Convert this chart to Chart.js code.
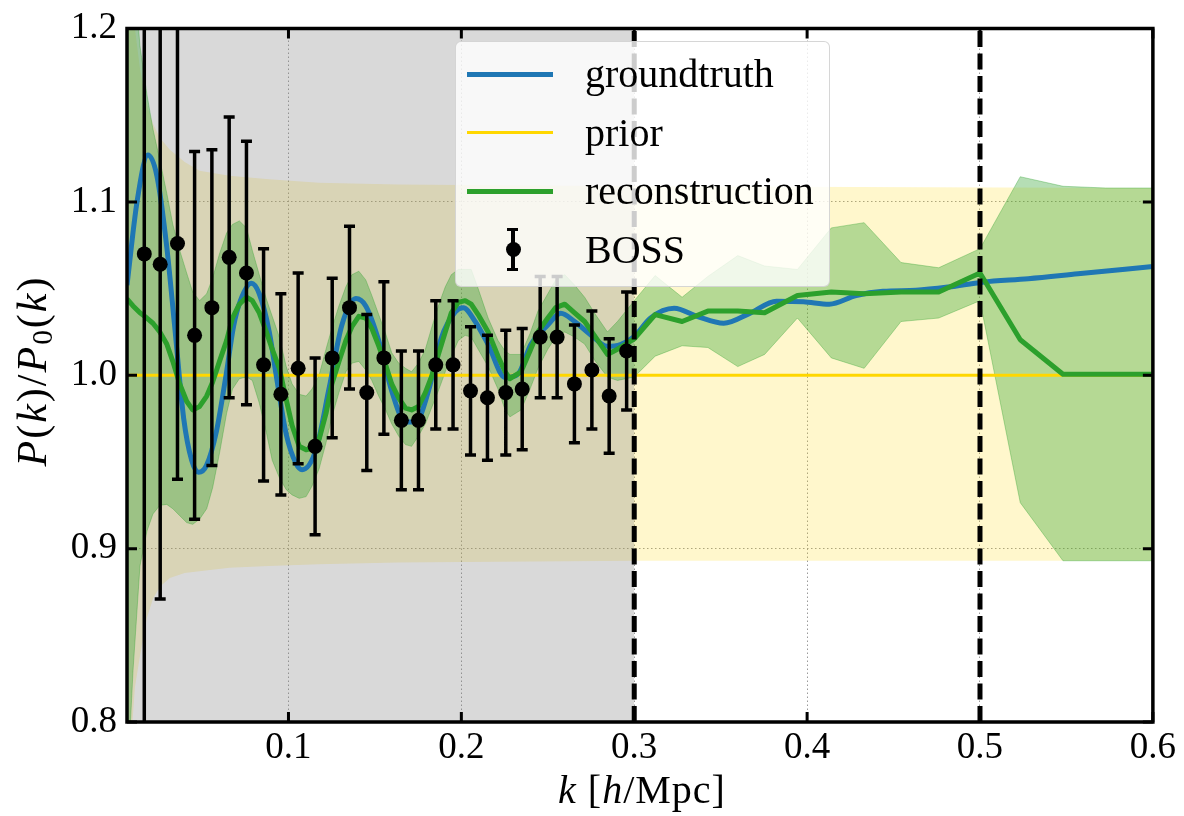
<!DOCTYPE html>
<html>
<head>
<meta charset="utf-8">
<script src="https://cdn.jsdelivr.net/npm/chart.js@4/dist/chart.umd.min.js"></script>
<style>
  html, body { margin: 0; padding: 0; background: #fff; }
  #wrap { position: relative; width: 1184px; height: 816px;
          font-family: "Liberation Serif", "Times New Roman", Times, "DejaVu Serif", serif; color: #000; }
  #chart { position: absolute; left: 0; top: 0; }
  sub { font-size: 0.7em; vertical-align: -0.22em; line-height: 0; }
  .xtitle { position: absolute; left: 442px; top: 770px; width: 400px; text-align: center;
            font-size: 40px; line-height: 40px; letter-spacing: 1px; }
  .ytitle { position: absolute; left: -118px; top: 350px; width: 300px; height: 42px; text-align: center;
            font-size: 42px; line-height: 42px; letter-spacing: 2px; transform: rotate(-90deg); }
  .legend { position: absolute; left: 455px; top: 41px; width: 375px; height: 246px; box-sizing: border-box;
            border: 1.5px solid rgba(204,204,204,0.8); border-radius: 6px; background: rgba(255,255,255,0.8); }
  .legend .row { position: absolute; left: 0; width: 100%; height: 40px; }
  .legend .txt { position: absolute; left: 129px; top: 0; font-size: 40px; line-height: 40px; white-space: nowrap; }
  .legend .line { position: absolute; left: 11px; width: 86px; }
  .legend .bar { position: absolute; background: #000; }
  .legend .dot { position: absolute; width: 15px; height: 15px; border-radius: 50%; background: #000; }
</style>
</head>
<body>
<div id="wrap">
  <canvas id="chart" width="1184" height="816"></canvas>
  <div class="ytitle"><i>P</i>(<i>k</i>)/<i>P</i><sub>0</sub>(<i>k</i>)</div>
  <div class="xtitle"><i>k</i> [<i>h</i>/Mpc]</div>
  <div class="legend" id="legend"></div>
</div>
<script>
// ── Data ──────────────────────────────────────────────────────────────────────

const xTicks     = [0.1, 0.2, 0.3, 0.4, 0.5, 0.6];
const yTicks     = [0.8, 0.9, 1.0, 1.1, 1.2];
const kRange     = [0.0066, 0.6];
const ratioRange = [0.8, 1.2];
const maskedK    = [0.0066, 0.3];   // grey span
const cutK       = [0.3, 0.5];      // dashed verticals
const priorMean  = 1.0;

const priorK  = [0.0066, 0.0083, 0.0112, 0.0141, 0.0181, 0.0216, 0.0256, 0.0314, 0.040, 0.0486,
                 0.0659, 0.0889, 0.1177, 0.1637, 0.3018, 0.6];
const priorLo = [0.60, 0.78, 0.82, 0.838, 0.860, 0.871, 0.878, 0.883, 0.886, 0.887,
                 0.889, 0.890, 0.891, 0.892, 0.893, 0.893];
const priorHi = [1.45, 1.28, 1.20, 1.177, 1.156, 1.145, 1.137, 1.130, 1.123, 1.118,
                 1.115, 1.113, 1.111, 1.110, 1.109, 1.108];

const truthK = [0.0066, 0.0124, 0.0187, 0.0239, 0.0296, 0.0342, 0.0394, 0.0440, 0.0480, 0.0526,
                0.0584, 0.0642, 0.0682, 0.0722, 0.0785, 0.0831, 0.0889, 0.0929, 0.0987, 0.1044,
                0.1079, 0.1159, 0.1234, 0.1309, 0.1390, 0.1447, 0.1522, 0.1597, 0.1677, 0.1735,
                0.1810, 0.1884, 0.1965, 0.2011, 0.2080, 0.2155, 0.2253, 0.2327, 0.2402, 0.2500,
                0.2575, 0.2655, 0.2747, 0.2845, 0.2920, 0.3001, 0.3093, 0.3231, 0.3363, 0.3518,
                0.3668, 0.3823, 0.3979, 0.4128, 0.4284, 0.4439, 0.4629, 0.4819, 0.5014, 0.5279,
                0.5567, 0.6];
const truthY = [1.052, 1.100, 1.127, 1.115, 1.074, 1.028, 0.975, 0.951, 0.944, 0.948,
                0.968, 1.002, 1.028, 1.043, 1.053, 1.047, 1.025, 1.000, 0.966, 0.949,
                0.9455, 0.957, 0.992, 1.029, 1.0443, 1.040, 1.020, 0.991, 0.973, 0.973,
                0.991, 1.0215, 1.0366, 1.039, 1.031, 1.0177, 0.9987, 1.0006, 1.0177, 1.029,
                1.0357, 1.031, 1.0234, 1.0167, 1.0177, 1.0224, 1.0329, 1.0386, 1.034, 1.030,
                1.0357, 1.0427, 1.0424, 1.041, 1.046, 1.0484, 1.049, 1.0509, 1.0537, 1.0557,
                1.0585, 1.0627];

const reconK  = [0.0066, 0.0101, 0.0141, 0.0181, 0.0216, 0.0256, 0.0296, 0.0331, 0.0371, 0.0411,
                 0.0446, 0.0486, 0.0527, 0.0561, 0.0601, 0.0642, 0.0676, 0.0716, 0.0757, 0.0791,
                 0.0831, 0.0872, 0.0906, 0.0947, 0.0987, 0.1021, 0.1062, 0.1102, 0.1136, 0.1177,
                 0.1217, 0.1251, 0.1292, 0.1332, 0.1367, 0.1407, 0.1447, 0.1482, 0.1522, 0.1562,
                 0.1597, 0.1637, 0.1677, 0.1712, 0.1752, 0.1792, 0.1827, 0.1867, 0.1907, 0.1942,
                 0.1982, 0.2022, 0.2057, 0.2097, 0.2155, 0.2212, 0.2253, 0.2281, 0.2345, 0.2397,
                 0.2443, 0.2500, 0.2546, 0.2598, 0.2655, 0.2713, 0.2776, 0.2845, 0.2903, 0.3000,
                 0.3121, 0.3277, 0.3426, 0.3599, 0.3754, 0.3944, 0.4140, 0.4330, 0.4543, 0.4761,
                 0.5000, 0.5233, 0.5480, 0.5728, 0.6];
const reconY  = [1.044, 1.040, 1.036, 1.033, 1.030, 1.025, 1.018, 1.008, 0.995, 0.985,
                 0.980, 0.982, 0.988, 0.996, 1.008, 1.020, 1.033, 1.041, 1.045, 1.043,
                 1.036, 1.025, 1.015, 1.004, 0.986, 0.971, 0.959, 0.957, 0.958, 0.963,
                 0.978, 0.995, 1.008, 1.020, 1.028, 1.034, 1.033, 1.027, 1.017, 1.006,
                 0.995, 0.987, 0.981, 0.980, 0.982, 0.990, 0.999, 1.012, 1.025, 1.036,
                 1.042, 1.043, 1.041, 1.035, 1.025, 1.011, 1.002, 0.998, 1.002, 1.014,
                 1.025, 1.033, 1.039, 1.041, 1.036, 1.031, 1.022, 1.012, 1.015, 1.021,
                 1.035, 1.031, 1.037, 1.037, 1.036, 1.046, 1.048, 1.047, 1.048, 1.048,
                 1.059, 1.0205, 1.0006, 1.0006, 1.0006];
const reconLo = [0.760, 0.830, 0.890, 0.910, 0.920, 0.925, 0.9255, 0.923, 0.919, 0.915,
                 0.914, 0.917, 0.923, 0.935, 0.955, 0.978, 0.992, 0.998, 0.999, 0.997,
                 0.984, 0.967, 0.951, 0.941, 0.934, 0.931, 0.929, 0.930, 0.936, 0.946,
                 0.961, 0.976, 0.990, 1.002, 1.007, 1.008, 1.003, 0.997, 0.988, 0.980,
                 0.972, 0.965, 0.960, 0.959, 0.965, 0.972, 0.981, 0.991, 1.002, 1.011,
                 1.020, 1.023, 1.022, 1.015, 1.005, 0.992, 0.980, 0.976, 0.980, 0.992,
                 1.004, 1.015, 1.022, 1.025, 1.022, 1.018, 1.008, 0.999, 0.997, 0.999,
                 1.011, 1.017, 1.016, 1.005, 1.012, 1.033, 1.010, 1.004, 1.031, 1.033,
                 1.043, 0.9265, 0.893, 0.893, 0.893];
const reconHi = [1.300, 1.240, 1.190, 1.162, 1.142, 1.124, 1.105, 1.087, 1.072, 1.059,
                 1.048, 1.043, 1.047, 1.056, 1.070, 1.082, 1.087, 1.089, 1.085, 1.072,
                 1.058, 1.044, 1.034, 1.022, 1.005, 0.995, 0.989, 0.988, 0.992, 1.000,
                 1.015, 1.027, 1.040, 1.051, 1.058, 1.060, 1.055, 1.046, 1.035, 1.024,
                 1.013, 1.007, 1.004, 1.002, 1.007, 1.015, 1.027, 1.040, 1.051, 1.058,
                 1.061, 1.061, 1.061, 1.050, 1.033, 1.020, 1.014, 1.012, 1.012, 1.024,
                 1.037, 1.047, 1.055, 1.058, 1.052, 1.045, 1.035, 1.025, 1.031, 1.043,
                 1.0575, 1.045, 1.057, 1.069, 1.063, 1.061, 1.085, 1.088, 1.065, 1.062,
                 1.073, 1.1145, 1.109, 1.108, 1.108];

const bossK   = [0.0166, 0.0258, 0.0358, 0.0457, 0.0557, 0.0657, 0.0757, 0.0856, 0.0956, 0.1056,
                 0.1154, 0.1253, 0.1353, 0.1453, 0.1552, 0.1653, 0.1752, 0.1852, 0.1952, 0.2053,
                 0.2151, 0.2257, 0.2352, 0.2456, 0.2554, 0.2654, 0.2755, 0.2855, 0.2956];
const bossY   = [1.070, 1.064, 1.076, 1.023, 1.039, 1.068, 1.059, 1.006, 0.989, 1.004,
                 0.959, 1.010, 1.039, 0.990, 1.010, 0.974, 0.974, 1.006, 1.006, 0.991,
                 0.987, 0.990, 0.992, 1.022, 1.022, 0.995, 1.003, 0.988, 1.014];
const bossErr = [0.300, 0.193, 0.136, 0.106, 0.091, 0.081, 0.076, 0.067, 0.058, 0.055,
                 0.051, 0.046, 0.047, 0.045, 0.044, 0.040, 0.040, 0.037, 0.037, 0.037,
                 0.036, 0.036, 0.035, 0.035, 0.035, 0.034, 0.034, 0.033, 0.034];

// ── Colours ───────────────────────────────────────────────────────────────────

const BLUE  = '#1f77b4';
const GREEN = '#2ca02c';
const GOLD  = '#ffd700';
const SERIF = '"Liberation Serif", "Times New Roman", Times, "DejaVu Serif", serif';

// ── Helpers ───────────────────────────────────────────────────────────────────

const pts = (xs, ys) => xs.map((x, i) => ({ x, y: ys[i] }));

function band(data, extra) {
  return Object.assign({
    data, pointRadius: 0, borderWidth: 0, borderColor: 'transparent', fill: false,
  }, extra);
}

// error bars for the BOSS points, drawn through the chart's scales
const errorBars = {
  id: 'errorBars',
  afterDatasetsDraw(chart) {
    const { ctx, chartArea: a, scales: { x, y } } = chart;
    ctx.save();
    ctx.beginPath();
    ctx.rect(a.left, a.top, a.width, a.height);
    ctx.clip();
    ctx.strokeStyle = '#000';
    ctx.lineWidth = 3.5;
    ctx.beginPath();
    bossK.forEach((k, i) => {
      const px  = x.getPixelForValue(k);
      const top = y.getPixelForValue(bossY[i] + bossErr[i]);
      const bot = y.getPixelForValue(bossY[i] - bossErr[i]);
      ctx.moveTo(px, top); ctx.lineTo(px, bot);
      ctx.moveTo(px - 5.5, top); ctx.lineTo(px + 5.5, top);
      ctx.moveTo(px - 5.5, bot); ctx.lineTo(px + 5.5, bot);
    });
    ctx.stroke();
    ctx.restore();
  },
};

// box frame plus inward ticks on all four sides
const frame = {
  id: 'frame',
  afterDraw(chart) {
    const { ctx, chartArea: a, scales: { x, y } } = chart;
    const len = 10;
    ctx.save();
    ctx.strokeStyle = '#000';
    ctx.lineWidth = 3;
    ctx.beginPath();
    xTicks.forEach((v) => {
      const px = x.getPixelForValue(v);
      ctx.moveTo(px, a.bottom); ctx.lineTo(px, a.bottom - len);
      ctx.moveTo(px, a.top);    ctx.lineTo(px, a.top + len);
    });
    yTicks.forEach((v) => {
      const py = y.getPixelForValue(v);
      ctx.moveTo(a.left, py);  ctx.lineTo(a.left + len, py);
      ctx.moveTo(a.right, py); ctx.lineTo(a.right - len, py);
    });
    ctx.stroke();
    ctx.lineWidth = 3.5;
    ctx.strokeRect(a.left, a.top, a.width, a.height);
    ctx.restore();
  },
};

// ── Chart ─────────────────────────────────────────────────────────────────────

Chart.defaults.font.family = SERIF;
Chart.defaults.color = '#000';

const datasets = [
  band(pts(priorK, priorLo), { label: 'prior lo', order: 10 }),
  band(pts(priorK, priorHi), { label: 'prior hi', order: 10, fill: '-1', backgroundColor: 'rgba(255,215,0,0.2)' }),
  band(pts(maskedK, [ratioRange[1], ratioRange[1]]), { label: 'mask', order: 9, fill: 'start', backgroundColor: 'rgba(128,128,128,0.3)' }),
  band(pts(reconK, reconLo), { label: 'recon lo', order: 8, borderWidth: 1, borderColor: 'rgba(44,160,44,0.35)' }),
  band(pts(reconK, reconHi), { label: 'recon hi', order: 8, borderWidth: 1, borderColor: 'rgba(44,160,44,0.35)',
                               fill: '-1', backgroundColor: 'rgba(44,160,44,0.35)' }),
  { label: 'prior', order: 7, data: pts(kRange, [priorMean, priorMean]),
    borderColor: GOLD, borderWidth: 3, pointRadius: 0, fill: false },
  { label: 'groundtruth', order: 6, data: pts(truthK, truthY), cubicInterpolationMode: 'monotone',
    borderColor: BLUE, borderWidth: 5, pointRadius: 0, fill: false, borderJoinStyle: 'round' },
  { label: 'reconstruction', order: 5, data: pts(reconK, reconY),
    borderColor: GREEN, borderWidth: 5, pointRadius: 0, fill: false, borderJoinStyle: 'round' },
  ...cutK.map((k) => ({
    label: 'cut', order: 4, data: pts([k, k], ratioRange),
    borderColor: '#000', borderWidth: 5, borderDash: [16, 6.5], pointRadius: 0, fill: false,
  })),
  { label: 'BOSS', order: 1, data: pts(bossK, bossY), showLine: false,
    pointRadius: 7.5, pointBackgroundColor: '#000', pointBorderColor: '#000', pointBorderWidth: 0 },
];

const tickFont = { family: SERIF, size: 37, lineHeight: 1 };

new Chart(document.getElementById('chart'), {
  type: 'line',
  data: { datasets },
  plugins: [errorBars, frame],
  options: {
    responsive: false,
    devicePixelRatio: 1,
    animation: false,
    events: [],
    layout: { padding: { left: 0, right: 26, top: 20, bottom: 0 } },
    plugins: { legend: { display: false }, tooltip: { enabled: false } },
    scales: {
      x: {
        type: 'linear', min: kRange[0], max: kRange[1],
        afterBuildTicks: (s) => { s.ticks = xTicks.map((value) => ({ value })); },
        afterFit: (s) => { s.height = 94; },
        ticks: { font: tickFont, padding: 8, maxRotation: 0, callback: (v) => Number(v).toFixed(1) },
        grid: { color: '#9a9a9a', lineWidth: 1, drawTicks: false },
        border: { display: false, dash: [1.5, 2.5] },
      },
      y: {
        type: 'linear', min: ratioRange[0], max: ratioRange[1],
        afterBuildTicks: (s) => { s.ticks = yTicks.map((value) => ({ value })); },
        afterFit: (s) => { s.width = 127; },
        ticks: { font: tickFont, padding: 10, callback: (v) => Number(v).toFixed(1) },
        grid: { color: '#9a9a9a', lineWidth: 1, drawTicks: false },
        border: { display: false, dash: [1.5, 2.5] },
      },
    },
  },
});

// ── Legend ────────────────────────────────────────────────────────────────────

const legendRows = [
  { label: 'groundtruth',    color: BLUE,  width: 5 },
  { label: 'prior',          color: GOLD,  width: 3 },
  { label: 'reconstruction', color: GREEN, width: 5 },
  { label: 'BOSS',           color: '#000', width: 0 },
];

document.getElementById('legend').innerHTML = legendRows.map((r, i) => {
  const top = 12 + i * 58.5;
  const handle = r.width
    ? `<div class="line" style="top:${20 - r.width / 2}px;height:${r.width}px;background:${r.color}"></div>`
    : `<div class="bar" style="left:55px;top:-1px;width:3.5px;height:41px"></div>
       <div class="bar" style="left:51px;top:-2px;width:11px;height:3px"></div>
       <div class="bar" style="left:51px;top:38px;width:11px;height:3px"></div>
       <div class="dot" style="left:49.5px;top:12px"></div>`;
  return `<div class="row" style="top:${top}px">${handle}<div class="txt">${r.label}</div></div>`;
}).join('');
</script>
</body>
</html>
